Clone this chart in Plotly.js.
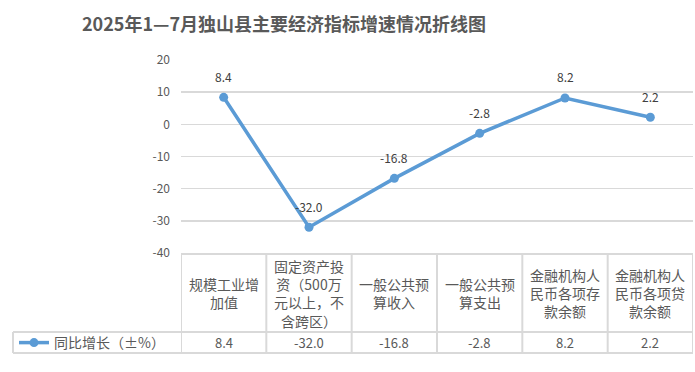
<!DOCTYPE html>
<html>
<head>
<meta charset="utf-8">
<script src="https://cdn.plot.ly/plotly-3.0.1.min.js"></script>
<style>html,body{margin:0;padding:0;background:#fff;}#chart{width:695px;height:372px;}</style>
</head>
<body>
<div id="chart"></div>
<script>
const chartTitle = "2025年1—7月独山县主要经济指标增速情况折线图";
const seriesName = "同比增长（±%）";
const categories = [
  "规模工业增<br>加值",
  "固定资产投<br>资（500万<br>元以上，不<br>含跨区）",
  "一般公共预<br>算收入",
  "一般公共预<br>算支出",
  "金融机构人<br>民币各项存<br>款余额",
  "金融机构人<br>民币各项贷<br>款余额"
];
const values = [8.4, -32.0, -16.8, -2.8, 8.2, 2.2];
const yTicks = [20, 10, 0, -10, -20, -30, -40];

const W = 695, H = 372;
const M = {l: 181, r: 2, t: 60, b: 119};
const plotH = H - M.t - M.b, plotW = W - M.l - M.r;
const py = pix => (H - M.b - pix) / plotH;   // pixel y -> paper y
const px = pix => (pix - M.l) / plotW;       // pixel x -> paper x

const FONT = '"Noto Sans CJK SC", "Noto Sans", sans-serif';
const GRID = '#D9D9D9';
const BLUE = '#5B9BD5';
const xs = categories.map((c, i) => i);

const tableTop = 254, catBottom = 332, tableBottom = 353;
const shapes = [];
const ln = (x0, y0, x1, y1, xref) => shapes.push({type: 'line', xref: xref, yref: 'paper',
  x0: x0, x1: x1, y0: py(y0), y1: py(y1), line: {color: GRID, width: 2}, layer: 'above'});
// horizontal lines of the data table
ln(-0.5, tableTop, categories.length - 0.5, tableTop, 'x');
ln(px(13), catBottom, categories.length - 0.5, catBottom, 'x');
ln(px(13), tableBottom, categories.length - 0.5, tableBottom, 'x');
// fix xref mixing: draw the legend-cell part in paper coords
shapes[1].xref = 'paper'; shapes[1].x1 = 1;
shapes[2].xref = 'paper'; shapes[2].x1 = 1;
// vertical column boundaries
for (let i = 0; i <= categories.length; i++) ln(i - 0.5, tableTop, i - 0.5, tableBottom, 'x');
ln(px(13), catBottom, px(13), tableBottom, 'paper');

const annotations = [];
categories.forEach((c, i) => {
  annotations.push({x: i, xref: 'x', y: py((tableTop + catBottom) / 2), yref: 'paper',
    text: c, showarrow: false, xanchor: 'center', yanchor: 'middle', align: 'center',
    font: {family: FONT, size: 14, color: '#595959'}});
  annotations.push({x: i, xref: 'x', y: py((catBottom + tableBottom) / 2), yref: 'paper',
    text: values[i].toFixed(1), showarrow: false, xanchor: 'center', yanchor: 'middle',
    font: {family: FONT, size: 13, color: '#595959'}});
  annotations.push({x: i, xref: 'x', y: values[i], yref: 'y', yshift: 21,
    text: values[i].toFixed(1), showarrow: false, xanchor: 'center', yanchor: 'middle',
    font: {family: FONT, size: 12, color: '#404040'}});
});

const trace = {
  x: xs, y: values, name: seriesName, type: 'scatter', mode: 'lines+markers',
  line: {color: BLUE, width: 3.5}, marker: {color: BLUE, size: 9},
  cliponaxis: false, hoverinfo: 'skip'
};

const layout = {
  width: W, height: H, margin: M,
  paper_bgcolor: '#fff', plot_bgcolor: '#fff',
  font: {family: FONT, color: '#595959'},
  title: {text: chartTitle, xref: 'container', x: 284 / W, xanchor: 'center',
    yref: 'container', y: 1 - 25 / H, yanchor: 'middle',
    font: {family: FONT, size: 18, color: '#595959', weight: 'bold'}},
  xaxis: {range: [-0.5, categories.length - 0.5], showgrid: false, zeroline: false,
    showline: false, showticklabels: false, ticks: '', fixedrange: true},
  yaxis: {range: [-40, 20], tickvals: yTicks, ticktext: yTicks.map(String),
    showgrid: true, gridcolor: GRID, gridwidth: 1.5, zeroline: false, showline: false,
    ticks: '', ticklabelstandoff: 10, tickfont: {family: FONT, size: 12, color: '#595959'}},
  showlegend: true,
  legend: {x: px(14), xanchor: 'left', y: py(343), yanchor: 'middle', bgcolor: 'rgba(0,0,0,0)',
    font: {family: FONT, size: 14, color: '#595959'}, itemwidth: 30},
  shapes: shapes, annotations: annotations
};

Plotly.newPlot('chart', [trace], layout, {staticPlot: true, displayModeBar: false});
</script>
</body>
</html>
